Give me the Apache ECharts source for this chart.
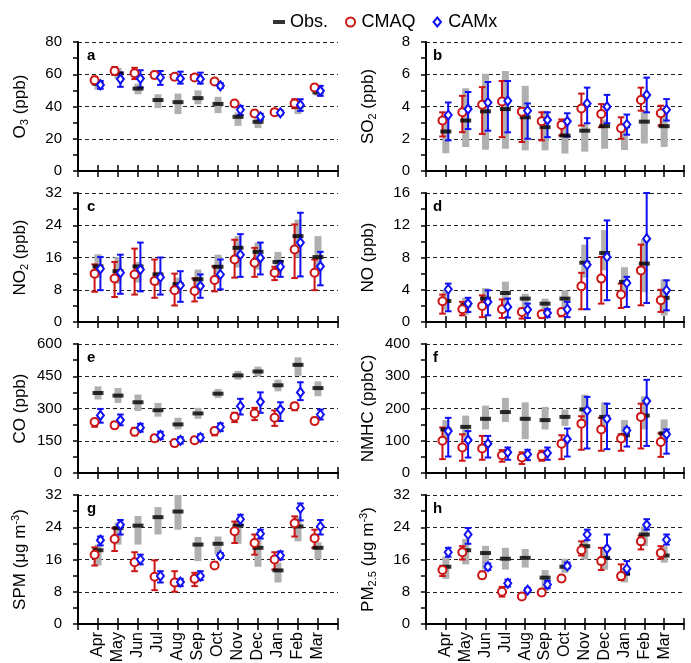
<!DOCTYPE html>
<html><head><meta charset="utf-8">
<script src="https://cdn.jsdelivr.net/npm/echarts@6/dist/echarts.min.js"></script>
<style>html,body{margin:0;padding:0;background:#fff}#c{width:691px;height:663px}</style>
</head><body><div id="c"></div>
<script>
const months = ['Apr','May','Jun','Jul','Aug','Sep','Oct','Nov','Dec','Jan','Feb','Mar'];

// (a) O3
const obsO3    = [54, 60.5, 51.1, 44, 42.7, 45.2, 41.6, 33.6, 30.5, 36, 40, 48.7];
const obsO3Lo  = [50.5, 57, 47.6, 39, 35.3, 41.4, 35.9, 28, 26.6, 33.6, 35.3, 46.6];
const obsO3Hi  = [57, 64, 54.2, 47.6, 48, 50, 46, 36.3, 33.2, 38.5, 44.5, 52.8];
const cmaqO3   = [56.3, 62, 60.6, 59.6, 58.4, 58, 55.5, 41.9, 35.7, 36.5, 41.9, 51.8];
const cmaqO3Lo = [54, 59.6, 57, 57.5, 56.5, 56.5, 54, 40, 34, 35, 39, 50];
const cmaqO3Hi = [58.5, 64.5, 64, 61.5, 60, 59.5, 57, 43.5, 37.5, 38, 44.5, 53.5];
const camxO3   = [53.4, 57, 57.3, 58, 57.3, 57, 52.8, 38, 33.6, 36.1, 41, 49.7];
const camxO3Lo = [51, 52.2, 51.8, 53.4, 54.2, 54.2, 51.5, 34.8, 32, 35, 37.3, 46.6];
const camxO3Hi = [55.8, 61, 62.5, 62, 61.6, 61, 54.5, 40.4, 35.5, 37.5, 44.5, 52.8];

// (b) SO2
const obsSO2    = [2.45, 3.13, 3.7, 3.84, 3.33, 2.72, 2.2, 2.5, 2.78, 2.78, 3.06, 2.78];
const obsSO2Lo  = [1.1, 1.49, 1.32, 1.38, 1.28, 1.28, 1.08, 1.2, 1.38, 1.3, 1.7, 1.49];
const obsSO2Hi  = [3.4, 5.13, 6.03, 6.2, 5.28, 3.74, 2.9, 2.9, 3.2, 3.0, 3.74, 3.74];
const cmaqSO2   = [3.13, 3.64, 4.11, 4.31, 3.68, 3.08, 2.86, 3.88, 3.54, 2.65, 4.4, 3.58];
const cmaqSO2Lo = [2.14, 2.41, 2.3, 2.1, 1.8, 1.9, 2.2, 2.82, 2.72, 2.0, 3.74, 2.82];
const cmaqSO2Hi = [3.64, 4.66, 5.2, 5.58, 3.9, 3.64, 3.2, 4.8, 4.15, 3.33, 5.17, 4.05];
const camxSO2   = [3.47, 3.84, 4.25, 4.35, 3.74, 3.17, 3.08, 4.19, 3.99, 2.88, 4.72, 3.8];
const camxSO2Lo = [1.9, 2.6, 2.5, 2.4, 2.0, 2.1, 2.14, 2.96, 2.96, 2.25, 3.64, 3.13];
const camxSO2Hi = [4.25, 4.9, 5.52, 5.58, 4.19, 3.64, 3.58, 5.17, 4.72, 3.5, 5.79, 4.46];

// (c) NO2
const obsNO2    = [13.8, 12.6, 13.8, 11.8, 9.4, 10.6, 13.7, 18.4, 17.4, 14.9, 21.3, 16.1];
const obsNO2Lo  = [11, 9.5, 9.8, 9, 7, 8, 10.5, 13.5, 13, 12, 16, 12];
const obsNO2Hi  = [16.8, 16.1, 14.9, 12.5, 11, 13, 16.7, 21.3, 19.7, 17.4, 25.4, 21.3];
const cmaqNO2   = [12.0, 10.8, 11.8, 10.2, 7.9, 7.7, 10.4, 15.5, 14.7, 12.2, 18.0, 12.2];
const cmaqNO2Lo = [7.5, 6.2, 6.8, 6.0, 4.1, 5.1, 7.6, 11.0, 11.2, 10.4, 10.9, 7.9];
const cmaqNO2Hi = [14.3, 14.9, 18.2, 15.5, 12.0, 10.8, 13.8, 20.4, 18.4, 13.7, 24.2, 15.5];
const camxNO2   = [13.2, 12.2, 13.0, 11.1, 9.1, 8.9, 11.8, 16.7, 15.9, 13.7, 19.7, 13.8];
const camxNO2Lo = [7.9, 7.0, 7.6, 6.8, 5.0, 6.0, 8.1, 11.2, 11.8, 11.2, 11.3, 9.1];
const camxNO2Hi = [16.1, 16.7, 19.7, 16.0, 12.6, 11.8, 15.5, 21.8, 19.7, 15.1, 27.1, 17.4];

// (d) NO
const obsNO    = [2.6, 2.07, 2.9, 3.6, 2.9, 2.28, 2.9, 7.36, 8.56, 4.97, 7.24, 3.0];
const obsNOLo  = [1.5, 0.9, 1.6, 1.9, 1.5, 1.0, 1.2, 5.5, 6.4, 3.5, 3.7, 0.8];
const obsNOHi  = [3.9, 3.0, 4.2, 5.0, 3.5, 2.9, 3.93, 9.6, 11.4, 6.8, 10.3, 5.3];
const cmaqNO   = [2.57, 1.58, 2.0, 1.58, 1.25, 0.96, 1.25, 4.43, 5.38, 3.4, 6.4, 2.7];
const cmaqNOLo = [1.04, 0.83, 0.6, 0.5, 0.42, 0.5, 0.7, 1.58, 2.28, 1.74, 2.07, 1.25];
const cmaqNOHi = [3.4, 2.5, 3.3, 2.8, 1.66, 1.3, 1.6, 6.1, 8.07, 4.76, 9.6, 4.0];
const camxNO   = [4.06, 2.28, 2.49, 1.87, 1.54, 1.12, 1.58, 7.1, 8.07, 4.84, 10.34, 3.93];
const camxNOLo = [1.33, 1.25, 0.83, 0.55, 0.5, 0.6, 0.6, 1.58, 2.7, 1.87, 2.36, 1.45];
const camxNOHi = [4.76, 3.0, 3.93, 2.9, 2.28, 1.6, 2.5, 10.4, 12.6, 5.6, 16, 5.17];

// (e) CO
const obsCO    = [372, 360, 329, 292, 226, 277, 369, 454, 472, 408, 503, 395];
const obsCOLo  = [342, 326, 288, 262, 203, 252, 349, 434, 449, 380, 452, 357];
const obsCOHi  = [403, 395, 365, 326, 257, 303, 391, 475, 495, 434, 538, 426];
const cmaqCO   = [237, 222, 192, 162, 139, 152, 195, 262, 277, 257, 311, 242];
const cmaqCOLo = [215, 207, 175, 148, 125, 139, 175, 237, 246, 219, 292, 227];
const cmaqCOHi = [250, 237, 210, 176, 153, 166, 210, 280, 303, 291, 326, 257];
const camxCO   = [268, 246, 211, 175, 152, 165, 214, 311, 331, 295, 375, 272];
const camxCOLo = [234, 222, 192, 157, 137, 149, 195, 272, 280, 242, 339, 249];
const camxCOHi = [298, 272, 229, 192, 167, 180, 231, 345, 375, 329, 422, 295];

// (f) NMHC
const obsNMHC    = [135, 143, 168, 189, 168, 164, 174, 197, 174, 117, 178, 123];
const obsNMHCLo  = [100, 110, 135, 158, 105, 135, 146, 150, 130, 95, 135, 100];
const obsNMHCHi  = [164, 178, 209, 233, 219, 205, 197, 243, 219, 164, 238, 166];
const cmaqNMHC   = [100, 79, 76, 55, 48, 53, 91, 153, 135, 107, 174, 96];
const cmaqNMHCLo = [43, 38, 41, 35, 28, 38, 43, 72, 69, 69, 76, 50];
const cmaqNMHCHi = [141, 120, 115, 71, 64, 69, 117, 176, 171, 120, 215, 123];
const camxNMHC   = [130, 102, 91, 64, 58, 62, 105, 194, 168, 132, 223, 120];
const camxNMHCLo = [51, 48, 48, 41, 40, 41, 51, 76, 74, 82, 84, 60];
const camxNMHCHi = [171, 130, 115, 79, 72, 79, 138, 236, 215, 140, 289, 135];

// (g) SPM
const obsSPM    = [18.3, 23.8, 24.4, 26.5, 27.9, 19.7, 19.9, 24.4, 18.9, 13.3, 24.2, 18.9];
const obsSPMLo  = [14.5, 19.7, 19.7, 22.2, 23.4, 15.6, 17.2, 19.9, 14.2, 10.3, 20.5, 16.0];
const obsSPMHi  = [19.7, 25.2, 26.8, 29.0, 32, 21.6, 21.7, 25.8, 20.9, 15.2, 26.7, 20.3];
const cmaqSPM   = [17.2, 21.1, 15.3, 11.7, 10.3, 11.2, 14.5, 23.0, 20.1, 16.0, 25.0, 21.3];
const cmaqSPMLo = [14.5, 18.1, 13.1, 8.4, 8.0, 9.4, 13.9, 20.1, 17.2, 13.5, 21.7, 18.9];
const cmaqSPMHi = [19.0, 23.8, 17.8, 15.8, 13.1, 12.7, 15.3, 25.4, 22.2, 17.8, 26.7, 23.4];
const camxSPM   = [20.8, 24.6, 16.0, 11.9, 10.4, 11.9, 17.0, 26.0, 22.4, 17.0, 28.7, 24.2];
const camxSPMLo = [19.5, 22.2, 14.8, 10.3, 9.4, 10.9, 16.4, 24.6, 21.2, 16.0, 25.7, 22.2];
const camxSPMHi = [21.7, 25.8, 17.2, 13.1, 11.2, 13.1, 17.6, 27.1, 23.4, 18.0, 29.9, 25.8];

// (h) PM2.5
const obsPM    = [14.2, 18.3, 17.6, 16.2, 16.4, 11.5, 14.2, 19.3, 16.4, 12.5, 22.2, 17.0];
const obsPMLo  = [11.2, 14.8, 13.5, 13.5, 14.0, 8.2, 12.7, 16.0, 13.5, 10.3, 19.3, 15.2];
const obsPMHi  = [16.7, 21.1, 19.4, 18.9, 18.6, 13.4, 16.2, 20.9, 18.5, 13.7, 24.2, 19.3];
const cmaqPM   = [13.4, 17.8, 12.1, 8.0, 6.8, 7.8, 11.3, 18.3, 15.6, 11.9, 20.5, 17.6];
const cmaqPMLo = [11.9, 16.0, 11.3, 6.8, 6.2, 7.1, 10.6, 17.0, 13.4, 10.9, 18.5, 16.2];
const cmaqPMHi = [14.4, 19.3, 13.0, 9.2, 7.4, 8.6, 12.0, 20.5, 18.9, 14.8, 21.9, 19.3];
const camxPM   = [17.8, 22.2, 14.2, 10.1, 8.4, 9.8, 14.4, 22.2, 18.7, 13.7, 24.6, 20.9];
const camxPMLo = [16.7, 19.9, 13.4, 9.3, 7.9, 8.9, 13.8, 20.8, 16.2, 12.3, 23.4, 19.7];
const camxPMHi = [18.9, 23.8, 15.0, 11.0, 8.9, 10.7, 15.2, 23.4, 22.2, 15.6, 26.0, 22.2];

// panel labels, axis names and y-axis scales
const panelLetters = ['a','b','c','d','e','f','g','h'];
const axisNames = [
  '{n|O}{s|3}{n| (ppb)}', '{n|SO}{s|2}{n| (ppb)}',
  '{n|NO}{s|2}{n| (ppb)}', '{n|NO (ppb)}',
  '{n|CO (ppb)}', '{n|NMHC (ppbC)}',
  '{n|SPM (μg m}{p|-3}{n|)}', '{n|PM}{s|2.5}{n| (μg m}{p|-3}{n|)}'
];
const yMax  = [80, 8, 32, 16, 600, 400, 32, 32];
const yStep = [20, 2, 8, 4, 150, 100, 8, 8];

const panelData = [
  [obsO3, obsO3Lo, obsO3Hi, cmaqO3, cmaqO3Lo, cmaqO3Hi, camxO3, camxO3Lo, camxO3Hi],
  [obsSO2, obsSO2Lo, obsSO2Hi, cmaqSO2, cmaqSO2Lo, cmaqSO2Hi, camxSO2, camxSO2Lo, camxSO2Hi],
  [obsNO2, obsNO2Lo, obsNO2Hi, cmaqNO2, cmaqNO2Lo, cmaqNO2Hi, camxNO2, camxNO2Lo, camxNO2Hi],
  [obsNO, obsNOLo, obsNOHi, cmaqNO, cmaqNOLo, cmaqNOHi, camxNO, camxNOLo, camxNOHi],
  [obsCO, obsCOLo, obsCOHi, cmaqCO, cmaqCOLo, cmaqCOHi, camxCO, camxCOLo, camxCOHi],
  [obsNMHC, obsNMHCLo, obsNMHCHi, cmaqNMHC, cmaqNMHCLo, cmaqNMHCHi, camxNMHC, camxNMHCLo, camxNMHCHi],
  [obsSPM, obsSPMLo, obsSPMHi, cmaqSPM, cmaqSPMLo, cmaqSPMHi, camxSPM, camxSPMLo, camxSPMHi],
  [obsPM, obsPMLo, obsPMHi, cmaqPM, cmaqPMLo, cmaqPMHi, camxPM, camxPMLo, camxPMHi]
];

// ---- styling / layout ----
const FONT = '"Liberation Sans", Arial, Helvetica, sans-serif';
const RED = '#cc1414', BLUE = '#1010f5', GRAY = '#b0b0b0';
const OFF_CMAQ = -0.17, OFF_CAMX = 0.12;
const colLeft = [78, 426], colWidth = [260, 258];
const rowTop = [42, 193, 344, 495], rowHeight = 129;

function boxRender(params, api) {
  const x = api.value(0), lo = api.value(1), hi = api.value(2);
  const a = api.coord([x, hi]), b = api.coord([x, lo]);
  const w = 7;
  return { type: 'rect', shape: { x: a[0] - w / 2, y: a[1], width: w, height: b[1] - a[1] }, style: { fill: GRAY } };
}
function errRender(color) {
  return function (params, api) {
    const x = api.value(0), lo = api.value(1), hi = api.value(2);
    const a = api.coord([x, hi]), b = api.coord([x, lo]);
    const c = 3.3, st = { stroke: color, lineWidth: 2 };
    return { type: 'group', children: [
      { type: 'line', shape: { x1: a[0], y1: a[1], x2: b[0], y2: b[1] }, style: st },
      { type: 'line', shape: { x1: a[0] - c, y1: a[1], x2: a[0] + c, y2: a[1] }, style: st },
      { type: 'line', shape: { x1: b[0] - c, y1: b[1], x2: b[0] + c, y2: b[1] }, style: st }
    ] };
  };
}

const grids = [], xAxes = [], yAxes = [], series = [], graphics = [];
const richName = {
  n: { fontSize: 17, fontFamily: FONT, color: '#000', lineHeight: 20 },
  s: { fontSize: 11, fontFamily: FONT, color: '#000', lineHeight: 9, verticalAlign: 'bottom' },
  p: { fontSize: 11, fontFamily: FONT, color: '#000', lineHeight: 11, verticalAlign: 'top' }
};

panelData.forEach((d, i) => {
  const col = i % 2, row = Math.floor(i / 2);
  const bottomRow = row === 3;
  grids.push({ left: colLeft[col], top: rowTop[row], width: colWidth[col], height: rowHeight,
    containLabel: false, outerBoundsMode: 'none' });
  const xBase = { gridIndex: i, type: 'value', min: 0, max: 13, interval: 1, position: 'bottom',
    splitLine: { show: false } };
  xAxes.push(Object.assign({}, xBase, {
    axisLine: { show: true, onZero: false, lineStyle: { color: '#000', width: 2 } },
    axisTick: { show: true, length: 6, lineStyle: { color: '#000', width: 1.5 } },
    axisLabel: { show: bottomRow, rotate: 90, margin: 8, fontSize: 16, fontFamily: FONT, color: '#000',
      formatter: v => (v >= 1 && v <= 12) ? months[v - 1] : '' }
  }));
  xAxes.push(Object.assign({}, xBase, {
    axisLine: { show: false, onZero: false },
    axisTick: { show: true, inside: true, length: 6, lineStyle: { color: '#000', width: 1.5 } },
    axisLabel: { show: false }
  }));
  yAxes.push({ gridIndex: i, type: 'value', min: 0, max: yMax[i], interval: yStep[i],
    axisLine: { show: true, onZero: false, lineStyle: { color: '#000', width: 2 } },
    axisTick: { show: true, length: 5, lineStyle: { color: '#000', width: 1.5 } },
    minorTick: { show: true, splitNumber: 2, length: 5, lineStyle: { color: '#000', width: 1.5 } },
    splitLine: { show: true, lineStyle: { color: '#222', width: 1, type: [4, 3] } },
    axisLabel: { fontSize: 15, margin: 16, fontFamily: FONT, color: '#000' },
    name: axisNames[i], nameLocation: 'middle', nameRotate: 90, nameGap: 48,
    nameTextStyle: { rich: richName }
  });
  const xi = i * 2, yi = i;
  const [obs, obsLo, obsHi, cm, cmLo, cmHi, cx, cxLo, cxHi] = d;
  series.push({ type: 'custom', name: 'range', xAxisIndex: xi, yAxisIndex: yi, renderItem: boxRender,
    data: months.map((m, j) => [j + 1, obsLo[j], obsHi[j]]), silent: true });
  series.push({ type: 'scatter', name: 'Obs.', xAxisIndex: xi, yAxisIndex: yi, symbol: 'rect', symbolSize: [11, 4],
    itemStyle: { color: '#000' }, data: months.map((m, j) => [j + 1, obs[j]]), silent: true });
  series.push({ type: 'scatter', name: 'CMAQ', xAxisIndex: xi, yAxisIndex: yi, symbol: 'circle', symbolSize: 8,
    itemStyle: { color: '#fff', borderColor: RED, borderWidth: 2, opacity: 1 },
    data: months.map((m, j) => [j + 1 + OFF_CMAQ, cm[j]]), silent: true });
  series.push({ type: 'custom', name: 'cmaqErr', xAxisIndex: xi, yAxisIndex: yi, renderItem: errRender(RED),
    data: months.map((m, j) => [j + 1 + OFF_CMAQ, cmLo[j], cmHi[j]]), silent: true });
  series.push({ type: 'scatter', name: 'CAMx', xAxisIndex: xi, yAxisIndex: yi, symbol: 'diamond', symbolSize: [7, 9],
    itemStyle: { color: '#fff', borderColor: BLUE, borderWidth: 2, opacity: 1 },
    data: months.map((m, j) => [j + 1 + OFF_CAMX, cx[j]]), silent: true });
  series.push({ type: 'custom', name: 'camxErr', xAxisIndex: xi, yAxisIndex: yi, renderItem: errRender(BLUE),
    data: months.map((m, j) => [j + 1 + OFF_CAMX, cxLo[j], cxHi[j]]), silent: true });
  graphics.push({ type: 'text', left: colLeft[col] + (col === 0 ? 9 : 7), top: rowTop[row] + 6,
    style: { text: panelLetters[i], font: 'bold 15px ' + FONT, fill: '#000' } });
});

const chart = echarts.init(document.getElementById('c'), null, { renderer: 'canvas' });
chart.setOption({
  animation: false,
  backgroundColor: '#fff',
  grid: grids, xAxis: xAxes, yAxis: yAxes, series: series, graphic: graphics,
  legend: {
    top: 8, left: 268, itemGap: 17, itemWidth: 12, itemHeight: 9, selectedMode: false,
    textStyle: { fontSize: 18, color: '#000', fontFamily: FONT },
    data: [
      { name: 'Obs.', icon: 'path://M0,0H12V4H0Z', itemStyle: { color: '#000' } },
      { name: 'CMAQ', icon: 'circle', itemStyle: { color: 'rgba(0,0,0,0)', borderColor: RED, borderWidth: 2 } },
      { name: 'CAMx', icon: 'path://M5,0L10,6L5,12L0,6Z', itemStyle: { color: 'rgba(0,0,0,0)', borderColor: BLUE, borderWidth: 2 } }
    ]
  }
});
</script></body></html>
